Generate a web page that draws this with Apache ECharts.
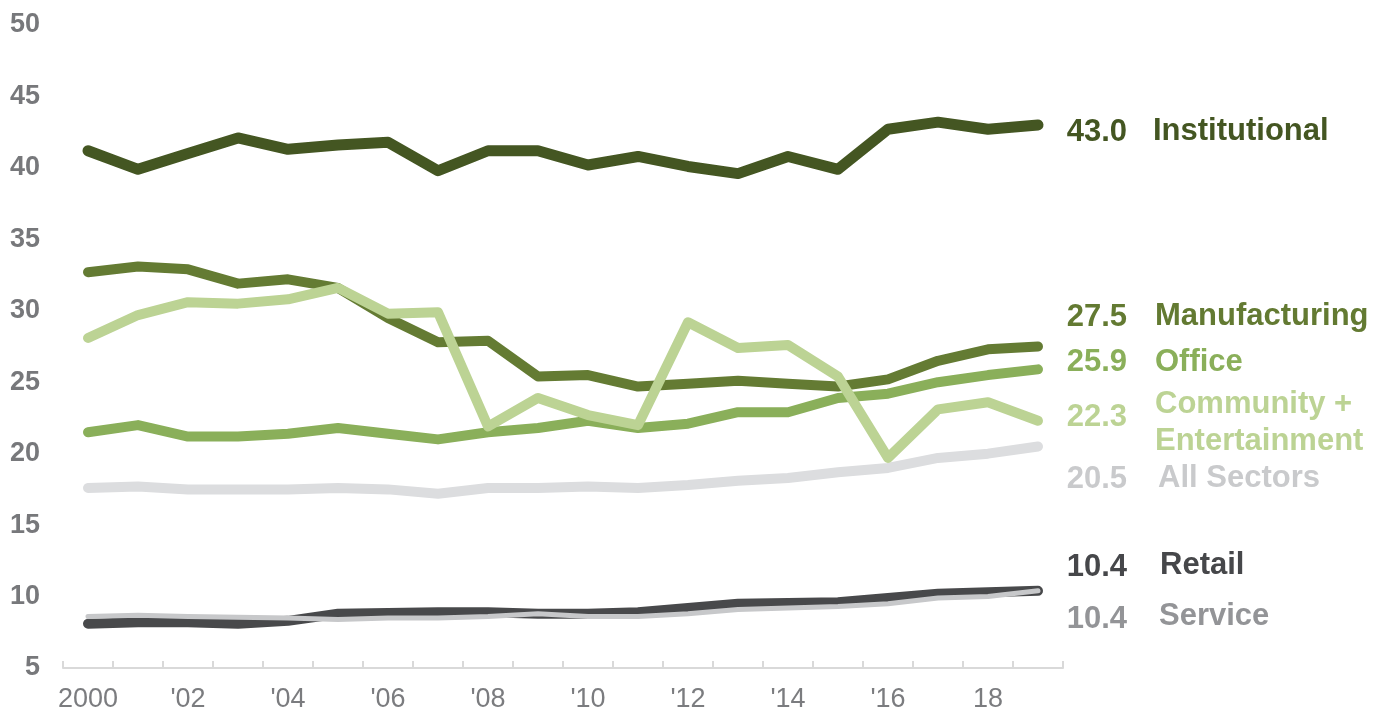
<!DOCTYPE html>
<html>
<head>
<meta charset="utf-8">
<script src="https://cdn.jsdelivr.net/npm/echarts@6/dist/echarts.min.js"></script>
<style>
  html, body { margin: 0; padding: 0; background: #ffffff; }
  #chart { width: 1387px; height: 713px; }
</style>
</head>
<body>
<div id="chart"></div>
<script>
// Years on the category axis and the labels printed under every other year
const years = ['2000','2001','2002','2003','2004','2005','2006','2007','2008','2009',
               '2010','2011','2012','2013','2014','2015','2016','2017','2018','2019'];
const yearLabels = ['2000','',"'02",'',"'04",'',"'06",'',"'08",'',
                    "'10",'',"'12",'',"'14",'',"'16",'','18',''];
const yTicks = [5, 10, 15, 20, 25, 30, 35, 40, 45, 50];

// Values by sector, one per year
const institutional = [41.2, 39.9, 41.0, 42.1, 41.3, 41.6, 41.8, 39.8, 41.2, 41.2,
                       40.2, 40.8, 40.1, 39.6, 40.8, 39.9, 42.7, 43.2, 42.7, 43.0];
const manufacturing = [32.7, 33.1, 32.9, 31.9, 32.2, 31.6, 29.5, 27.8, 27.9, 25.4,
                       25.5, 24.7, 24.9, 25.1, 24.9, 24.7, 25.2, 26.5, 27.3, 27.5];
const office        = [21.5, 22.0, 21.2, 21.2, 21.4, 21.8, 21.4, 21.0, 21.5, 21.8,
                       22.3, 21.8, 22.1, 22.9, 22.9, 23.9, 24.2, 25.0, 25.5, 25.9];
const community     = [28.1, 29.7, 30.6, 30.5, 30.8, 31.6, 29.8, 29.9, 21.9, 23.9,
                       22.7, 22.0, 29.2, 27.4, 27.6, 25.4, 19.7, 23.1, 23.6, 22.3];
const allSectors    = [17.6, 17.7, 17.5, 17.5, 17.5, 17.6, 17.5, 17.2, 17.6, 17.6,
                       17.7, 17.6, 17.8, 18.1, 18.3, 18.7, 19.0, 19.7, 20.0, 20.5];
const retail        = [8.1, 8.2, 8.2, 8.1, 8.3, 8.8, 8.85, 8.9, 8.9, 8.8,
                       8.8, 8.9, 9.2, 9.5, 9.55, 9.6, 9.9, 10.2, 10.3, 10.4];
const service       = [8.6, 8.7, 8.6, 8.55, 8.5, 8.4, 8.5, 8.5, 8.6, 8.8,
                       8.6, 8.6, 8.8, 9.1, 9.2, 9.3, 9.5, 9.9, 10.0, 10.4];

const FONT = '"Liberation Sans", Arial, Helvetica, sans-serif';

// Drawing order: later entries sit on top
const sectors = [
  { name: 'All Sectors', data: allSectors, color: '#dcdddf', text: '#c9cacc', width: 10, dyV: 33, dyN: 32, dxN: 120 },
  { name: 'Retail', data: retail, color: '#48494b', text: '#46474a', width: 10, dyV: -23, dyN: -25, dxN: 122 },
  { name: 'Service', data: service, color: '#c7c8ca', text: '#939497', width: 5, dyV: 29, dyN: 26, dxN: 121 },
  { name: 'Office', data: office, color: '#8aaf5a', text: '#8aaf5a', width: 10, dyV: -7, dyN: -7, dxN: 117 },
  { name: 'Manufacturing', data: manufacturing, color: '#647b33', text: '#637a32', width: 10, dyV: -29, dyN: -30, dxN: 117 },
  { name: 'Institutional', data: institutional, color: '#445622', text: '#445622', width: 11, dyV: 7, dyN: 6, dxN: 115 },
  { name: 'Community +\nEntertainment', data: community, color: '#bcd394', text: '#bcd394', width: 10, dyV: -3, dyN: 2, dxN: 117 }
];

const last = years.length - 1;

const series = sectors.map(s => ({
  type: 'line',
  name: s.name,
  data: s.data,
  symbol: 'none',
  silent: true,
  animation: false,
  lineStyle: { color: s.color, width: s.width, cap: 'round', join: 'round' },
  endLabel: {
    show: true,
    distance: 0,
    offset: [0, s.dyV],
    formatter: p => '{v|' + Number(p.value).toFixed(1) + '}',
    rich: {
      v: {
        width: 89, align: 'right', fontSize: 31, fontWeight: 'bold',
        fontFamily: FONT, color: s.text
      }
    }
  },
  markPoint: {
    silent: true,
    animation: false,
    symbol: 'circle',
    symbolSize: 0,
    itemStyle: { color: 'transparent' },
    data: [{ coord: [last, s.data[last]] }],
    label: {
      show: true,
      position: 'right',
      distance: s.dxN,
      offset: [0, s.dyN],
      formatter: s.name,
      fontSize: 31,
      lineHeight: 37,
      fontWeight: 'bold',
      fontFamily: FONT,
      color: s.text,
      align: 'left',
      verticalAlign: 'middle'
    }
  }
}));

const chart = echarts.init(document.getElementById('chart'), null, { renderer: 'canvas' });
chart.setOption({
  backgroundColor: '#ffffff',
  animation: false,
  grid: { left: 63, right: 324, top: 25, bottom: 44, containLabel: false },
  xAxis: {
    type: 'category',
    data: years,
    boundaryGap: true,
    axisLine: { show: true, lineStyle: { color: '#d9d9d9', width: 2 } },
    axisTick: { show: true, inside: true, length: 7, interval: 0, lineStyle: { color: '#d9d9d9', width: 2 } },
    axisLabel: {
      interval: 0,
      margin: 18,
      fontSize: 27,
      fontFamily: FONT,
      color: '#7b7c7f',
      formatter: (v, i) => yearLabels[i]
    },
    splitLine: { show: false }
  },
  yAxis: {
    type: 'value',
    min: yTicks[0],
    max: yTicks[yTicks.length - 1],
    interval: yTicks[1] - yTicks[0],
    axisLine: { show: false },
    axisTick: { show: false },
    splitLine: { show: false },
    axisLabel: {
      margin: 23,
      fontSize: 27,
      fontWeight: 'bold',
      fontFamily: FONT,
      color: '#77787b'
    }
  },
  series: series
});
</script>
</body>
</html>
